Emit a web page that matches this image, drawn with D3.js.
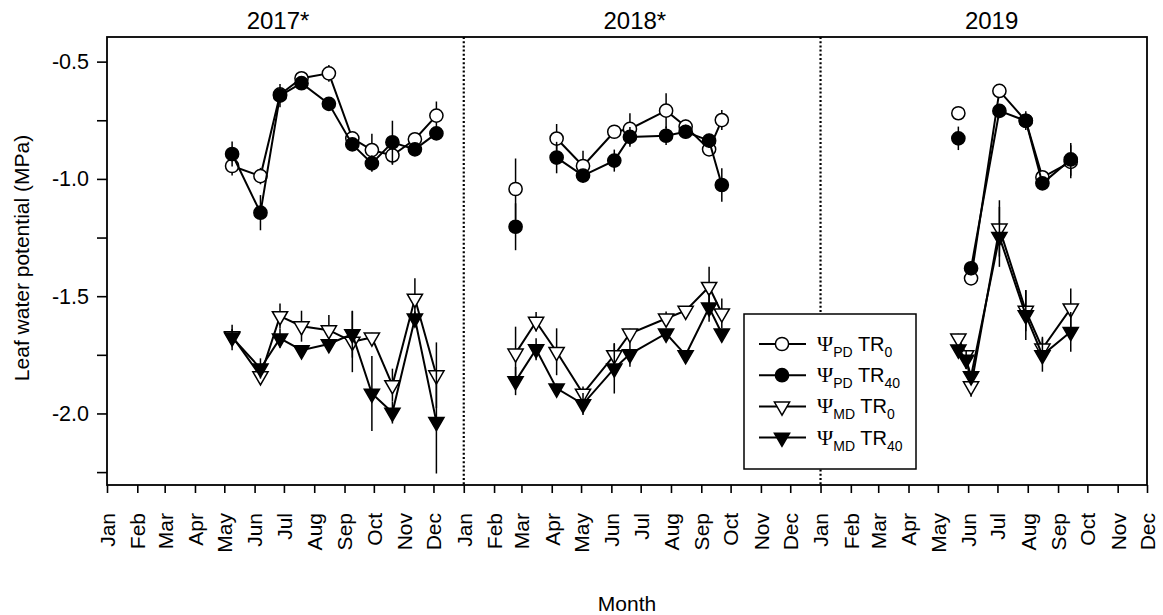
<!DOCTYPE html>
<html>
<head>
<meta charset="utf-8">
<script src="https://cdn.jsdelivr.net/npm/d3@7"></script>
<style>
  body { margin: 0; background: #fff; }
  svg { font-family: "Liberation Sans", Arial, sans-serif; }
</style>
</head>
<body>
<div id="chart"></div>
<script>
// Sampling dates (one shared list, three seasons)
const sampleDates = [
  "2017-05-09", "2017-06-07", "2017-06-27", "2017-07-19", "2017-08-16",
  "2017-09-09", "2017-09-29", "2017-10-20", "2017-11-12", "2017-12-04",
  "2018-02-23", "2018-03-16", "2018-04-06", "2018-05-03", "2018-06-04",
  "2018-06-20", "2018-07-27", "2018-08-16", "2018-09-09", "2018-09-22",
  "2019-05-22", "2019-05-30", "2019-06-04", "2019-07-03", "2019-07-30",
  "2019-08-16", "2019-09-14"
];

// Predawn water potential (MPa), null = not measured
const pdTR0 = [-0.945, -0.988, -0.64, -0.571, -0.55, -0.827, -0.877, -0.90, -0.831, -0.73,
  -1.043, null, -0.828, -0.945, -0.799, -0.787, -0.709, -0.777, -0.874, -0.749,
  -0.72, null, -1.424, -0.625, -0.752, -0.993, -0.927];
const pdTR0se = [0.04, 0.035, 0.02, 0.02, 0.036, 0.02, 0.07, 0.04, 0.02, 0.06,
  0.13, null, 0.062, 0.065, 0.02, 0.067, 0.074, 0.03, 0.02, 0.043,
  0.02, null, 0.02, 0.02, 0.02, 0.02, 0.07];
const pdTR40 = [-0.894, -1.144, -0.645, -0.592, -0.68, -0.853, -0.934, -0.844, -0.874, -0.806,
  -1.204, null, -0.909, -0.986, -0.922, -0.821, -0.816, -0.799, -0.837, -1.026,
  -0.827, null, -1.381, -0.71, -0.752, -1.019, -0.917];
const pdTR40se = [0.053, 0.075, 0.05, 0.02, 0.02, 0.02, 0.035, 0.092, 0.02, 0.02,
  0.1, null, 0.067, 0.02, 0.047, 0.042, 0.039, 0.03, 0.03, 0.071,
  0.05, null, 0.03, 0.02, 0.04, 0.02, 0.07];

// Midday water potential (MPa)
const mdTR0 = [-1.67, -1.841, -1.585, -1.628, -1.645, -1.694, -1.676, -1.879, -1.51, -1.837,
  -1.744, -1.609, -1.737, -1.915, -1.751, -1.659, -1.595, -1.562, -1.46, -1.573,
  -1.68, -1.751, -1.884, -1.211, -1.562, -1.723, -1.552];
const mdTR0se = [0.03, 0.03, 0.054, 0.066, 0.065, 0.13, 0.02, 0.07, 0.086, 0.14,
  0.114, 0.042, 0.1, 0.03, 0.05, 0.02, 0.03, 0.02, 0.085, 0.063,
  0.02, 0.02, 0.045, 0.12, 0.088, 0.05, 0.085];
const mdTR40 = [-1.676, -1.808, -1.68, -1.73, -1.704, -1.662, -1.915, -1.996, -1.595, -2.036,
  -1.862, -1.726, -1.893, -1.96, -1.808, -1.747, -1.659, -1.751, -1.548, -1.659,
  -1.727, -1.77, -1.841, -1.247, -1.581, -1.751, -1.652];
const mdTR40se = [0.054, 0.043, 0.04, 0.02, 0.02, 0.1, 0.16, 0.047, 0.03, 0.22,
  0.06, 0.047, 0.02, 0.047, 0.107, 0.054, 0.02, 0.02, 0.061, 0.02,
  0.02, 0.04, 0.02, 0.128, 0.106, 0.071, 0.085];

const years = [2017, 2018, 2019];
const yearLabels = ["2017*", "2018*", "2019"];
const yTicks = [-2.25, -2.0, -1.75, -1.5, -1.25, -1.0, -0.75, -0.5];

const margin = { top: 37, right: 16, bottom: 130, left: 107 };
const width = 1163 - margin.left - margin.right;
const height = 615 - margin.top - margin.bottom;

const parse = d3.timeParse("%Y-%m-%d");
const dates = sampleDates.map(parse);

// series: which marker, fill
const series = [
  { name: "PD", sub: "0", values: pdTR0, se: pdTR0se, shape: "circle", fill: "#fff" },
  { name: "PD", sub: "40", values: pdTR40, se: pdTR40se, shape: "circle", fill: "#000" },
  { name: "MD", sub: "0", values: mdTR0, se: mdTR0se, shape: "tri", fill: "#fff" },
  { name: "MD", sub: "40", values: mdTR40, se: mdTR40se, shape: "tri", fill: "#000" }
];

const x = d3.scaleTime()
  .domain([new Date(2017, 0, 1), new Date(2019, 11, 1)])
  .range([0, width]);

const y = d3.scaleLinear()
  .domain([-2.305, -0.395])
  .range([height, 0]);

const svg = d3.select("#chart")
  .append("svg")
  .attr("width", width + margin.left + margin.right)
  .attr("height", height + margin.top + margin.bottom)
  .append("g")
  .attr("transform", `translate(${margin.left},${margin.top})`);

// year separators
svg.selectAll(".sep")
  .data(years.slice(1))
  .enter()
  .append("line")
  .attr("x1", d => x(new Date(d, 0, 1)))
  .attr("x2", d => x(new Date(d, 0, 1)))
  .attr("y1", 0)
  .attr("y2", height)
  .attr("stroke", "#000")
  .attr("stroke-width", 2.2)
  .attr("stroke-dasharray", "2,2.2");

// y axis
const yAxis = d3.axisLeft(y)
  .tickValues(yTicks)
  .tickSize(10)
  .tickSizeOuter(0)
  .tickPadding(8)
  .tickFormat(d => Math.abs((d * 2) % 1) < 1e-9 ? d.toFixed(1) : "");

svg.append("g")
  .call(yAxis)
  .call(g => g.select(".domain").remove())
  .call(g => g.selectAll("line").attr("stroke-width", 1.6))
  .selectAll("text")
  .style("font-size", "21.5px")
  .attr("fill", "#000");

// x axis, one tick a month
const xAxis = d3.axisBottom(x)
  .ticks(d3.timeMonth.every(1))
  .tickSize(8)
  .tickSizeOuter(0)
  .tickFormat(d3.timeFormat("%b"));

svg.append("g")
  .attr("transform", `translate(0,${height})`)
  .call(xAxis)
  .call(g => g.select(".domain").remove())
  .call(g => g.selectAll("line").attr("stroke-width", 1.6))
  .selectAll("text")
  .attr("transform", "rotate(-90)")
  .attr("x", -28)
  .attr("y", 0)
  .attr("dy", "0.35em")
  .style("text-anchor", "end")
  .style("font-size", "21px")
  .attr("fill", "#000");

// frame
svg.append("rect")
  .attr("width", width)
  .attr("height", height)
  .attr("fill", "none")
  .attr("stroke", "#000")
  .attr("stroke-width", 1.8);

// year titles
svg.selectAll(".year")
  .data(years)
  .enter()
  .append("text")
  .attr("x", d => x(new Date(d, 5, 25)))
  .attr("y", -8)
  .style("text-anchor", "middle")
  .style("font-size", "24px")
  .text((d, i) => yearLabels[i]);

// axis titles
svg.append("text")
  .attr("transform", `translate(${22 - margin.left},${258 - margin.top}) rotate(-90)`)
  .attr("dy", "0.35em")
  .style("text-anchor", "middle")
  .style("font-size", "21px")
  .text("Leaf water potential (MPa)");

svg.append("text")
  .attr("x", width / 2)
  .attr("y", 611 - margin.top)
  .style("text-anchor", "middle")
  .style("font-size", "21px")
  .text("Month");

const circleSym = d3.symbol().type(d3.symbolCircle).size(Math.PI * 6.6 * 6.6);
const triSym = d3.symbol().type(d3.symbolTriangle).size(100);

function drawMarker(sel, s) {
  sel.append("path")
    .attr("d", s.shape === "circle" ? circleSym() : triSym())
    .attr("fill", s.fill)
    .attr("stroke", "#000")
    .attr("stroke-width", 1.5);
}

const line = d3.line()
  .defined(d => d.v !== null)
  .x(d => x(d.date))
  .y(d => y(d.v));

series.forEach(s => {
  const pts = dates.map((date, i) => ({ date, v: s.values[i], se: s.se[i] }));
  const g = svg.append("g");

  // error bars (±SE)
  g.selectAll(".err")
    .data(pts.filter(d => d.v !== null))
    .enter()
    .append("line")
    .attr("x1", d => x(d.date))
    .attr("x2", d => x(d.date))
    .attr("y1", d => y(d.v - d.se))
    .attr("y2", d => y(d.v + d.se))
    .attr("stroke", "#000")
    .attr("stroke-width", 1.5);

  // one path per season
  years.forEach(yr => {
    g.append("path")
      .datum(pts.filter(d => d.date.getFullYear() === yr))
      .attr("d", line)
      .attr("fill", "none")
      .attr("stroke", "#000")
      .attr("stroke-width", 2);
  });

  g.selectAll(".pt")
    .data(pts.filter(d => d.v !== null))
    .enter()
    .append("g")
    .attr("transform", d => `translate(${x(d.date)},${y(d.v)})` + (s.shape === "tri" ? " rotate(180)" : ""))
    .each(function () { drawMarker(d3.select(this), s); });
});

// legend
const legend = svg.append("g")
  .attr("transform", `translate(${744 - margin.left},${314 - margin.top})`);

legend.append("rect")
  .attr("width", 172)
  .attr("height", 155)
  .attr("fill", "#fff")
  .attr("stroke", "#000")
  .attr("stroke-width", 1.5);

series.forEach((s, i) => {
  const row = legend.append("g").attr("transform", `translate(0,${30 + i * 31.2})`);
  row.append("line")
    .attr("x1", 15).attr("x2", 62)
    .attr("stroke", "#000").attr("stroke-width", 2);
  const m = row.append("g")
    .attr("transform", "translate(38,0)" + (s.shape === "tri" ? " rotate(180)" : ""));
  drawMarker(m, s);
  const t = row.append("text")
    .attr("x", 73)
    .attr("y", 7)
    .style("font-size", "20px");
  t.append("tspan").style("font-family", "'Liberation Serif', serif").style("font-size", "22px").text("Ψ");
  t.append("tspan").attr("dy", 6).style("font-size", "14px").text(s.name);
  t.append("tspan").attr("dy", -6).text(" TR");
  t.append("tspan").attr("dy", 6).style("font-size", "14px").text(s.sub);
});
</script>
</body>
</html>
